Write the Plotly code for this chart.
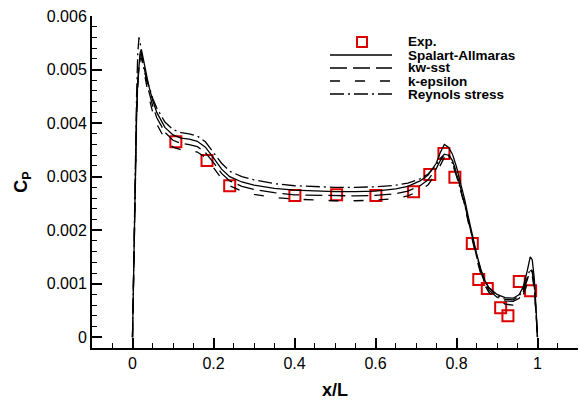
import plotly.graph_objects as go

# ---------------- data ----------------
x_cfd = [0.000, 0.002, 0.004, 0.007, 0.010, 0.013, 0.016, 0.019, 0.022, 0.026,
         0.030, 0.040, 0.050, 0.060, 0.080, 0.100, 0.120, 0.140, 0.160, 0.180,
         0.200, 0.220, 0.240, 0.270, 0.300, 0.350, 0.400, 0.450, 0.500, 0.550,
         0.600, 0.650, 0.680, 0.710, 0.730, 0.750, 0.760, 0.770, 0.780, 0.790,
         0.800, 0.810, 0.820, 0.830, 0.840, 0.850, 0.860, 0.870, 0.880, 0.900,
         0.920, 0.940, 0.955, 0.965, 0.975, 0.982, 0.987, 0.992, 0.996, 1.000]

cp_sa = [0.0, 0.00100, 0.00200, 0.00320, 0.00420, 0.00480, 0.00515, 0.00532, 0.00537, 0.00522,
         0.00505, 0.00470, 0.00442, 0.00420, 0.00392, 0.00378, 0.00372, 0.00370, 0.00366, 0.00355,
         0.00335, 0.00314, 0.00300, 0.00290, 0.00284, 0.00278, 0.00275, 0.00273, 0.00272, 0.00272,
         0.00273, 0.00277, 0.00282, 0.00292, 0.00303, 0.00325, 0.00345, 0.00360, 0.00355, 0.00342,
         0.00318, 0.00288, 0.00258, 0.00222, 0.00188, 0.00155, 0.00127, 0.00106, 0.00093, 0.00080,
         0.00074, 0.00073, 0.00080, 0.00095, 0.00125, 0.00150, 0.00145, 0.00110, 0.00060, 0.0]

cp_kw = [0.0, 0.00095, 0.00190, 0.00310, 0.00410, 0.00475, 0.00512, 0.00528, 0.00530, 0.00515,
         0.00498, 0.00460, 0.00432, 0.00410, 0.00383, 0.00368, 0.00362, 0.00360, 0.00356, 0.00345,
         0.00326, 0.00306, 0.00292, 0.00282, 0.00276, 0.00270, 0.00266, 0.00265, 0.00264, 0.00264,
         0.00265, 0.00268, 0.00273, 0.00283, 0.00294, 0.00315, 0.00330, 0.00342, 0.00342, 0.00330,
         0.00308, 0.00280, 0.00250, 0.00216, 0.00182, 0.00150, 0.00122, 0.00101, 0.00088, 0.00075,
         0.00068, 0.00067, 0.00073, 0.00085, 0.00108, 0.00125, 0.00122, 0.00095, 0.00050, 0.0]

cp_ke = [0.0, 0.00090, 0.00185, 0.00300, 0.00400, 0.00465, 0.00505, 0.00520, 0.00522, 0.00506,
         0.00488, 0.00450, 0.00420, 0.00398, 0.00370, 0.00355, 0.00350, 0.00350, 0.00346, 0.00336,
         0.00317, 0.00296, 0.00283, 0.00273, 0.00267, 0.00261, 0.00258, 0.00256, 0.00255, 0.00255,
         0.00256, 0.00259, 0.00264, 0.00274, 0.00285, 0.00306, 0.00322, 0.00336, 0.00338, 0.00326,
         0.00304, 0.00276, 0.00246, 0.00212, 0.00178, 0.00146, 0.00118, 0.00097, 0.00084, 0.00070,
         0.00062, 0.00060, 0.00068, 0.00080, 0.00100, 0.00118, 0.00115, 0.00090, 0.00048, 0.0]

cp_rs = [0.0, 0.00105, 0.00210, 0.00340, 0.00450, 0.00530, 0.00560, 0.00550, 0.00530, 0.00510,
         0.00495, 0.00468, 0.00446, 0.00428, 0.00402, 0.00388, 0.00382, 0.00380, 0.00376, 0.00365,
         0.00346, 0.00325, 0.00310, 0.00300, 0.00294, 0.00287, 0.00283, 0.00281, 0.00280, 0.00280,
         0.00281, 0.00284, 0.00288, 0.00296, 0.00305, 0.00322, 0.00334, 0.00342, 0.00340, 0.00325,
         0.00302, 0.00276, 0.00248, 0.00215, 0.00183, 0.00152, 0.00125, 0.00105, 0.00092, 0.00078,
         0.00071, 0.00070, 0.00077, 0.00090, 0.00112, 0.00128, 0.00124, 0.00096, 0.00052, 0.0]

x_exp = [0.107, 0.184, 0.240, 0.401, 0.504, 0.601, 0.694, 0.734, 0.769, 0.796,
         0.839, 0.855, 0.876, 0.909, 0.927, 0.955, 0.983]
cp_exp = [0.00365, 0.00330, 0.00283, 0.00265, 0.00266, 0.00265, 0.00272, 0.00304, 0.00343, 0.00299,
          0.00175, 0.00108, 0.00091, 0.00055, 0.00040, 0.00104, 0.00087]

x_ticks = [0, 0.2, 0.4, 0.6, 0.8, 1.0]
x_tick_labels = ["0", "0.2", "0.4", "0.6", "0.8", "1"]
y_ticks = [0, 0.001, 0.002, 0.003, 0.004, 0.005, 0.006]
y_tick_labels = ["0", "0.001", "0.002", "0.003", "0.004", "0.005", "0.006"]

series_names = ["Spalart-Allmaras", "kw-sst", "k-epsilon", "Reynols stress"]
series_dash = ["solid", "17px,6px", "10px,15px", "14px,4px,2px,4px"]
exp_name = "Exp."

# ---------------- figure ----------------
FONT = "Liberation Sans, Arial, sans-serif"
RED = "#dd0000"
W, H = 580, 401
ML, MR, MT, MB = 92, 2, 16, 53
PW, PH = W - ML - MR, H - MT - MB

fig = go.Figure()

fig.add_trace(go.Scatter(
    x=x_exp, y=cp_exp, mode="markers", name=exp_name,
    marker=dict(symbol="square-open", size=11, color=RED,
                line=dict(color=RED, width=2)),
))
for name, ys, dash in zip(series_names, [cp_sa, cp_kw, cp_ke, cp_rs], series_dash):
    fig.add_trace(go.Scatter(x=x_cfd, y=ys, mode="lines", name=name,
                             line=dict(color="black", width=1.3, dash=dash)))

axis_common = dict(
    showgrid=False, zeroline=False, showline=True, linecolor="black", linewidth=2,
    ticks="inside", ticklen=10, tickwidth=2, tickcolor="black",
    tickfont=dict(family=FONT, size=16, color="black"),
    mirror=False,
)

fig.update_xaxes(
    range=[-0.1, 1.1], tickmode="array", tickvals=x_ticks, ticktext=x_tick_labels,
    minor=dict(ticks="inside", dtick=0.05, ticklen=5, tickwidth=1, tickcolor="black", showgrid=False),
    title=dict(text="<b>x/L</b>", font=dict(family=FONT, size=18, color="black"), standoff=12),
    **axis_common,
)
fig.update_yaxes(
    range=[-0.0002, 0.006], tickmode="array", tickvals=y_ticks, ticktext=y_tick_labels,
    minor=dict(ticks="inside", dtick=0.0002, ticklen=5, tickwidth=1, tickcolor="black", showgrid=False),
    title=dict(text="<b>C<sub>P</sub></b>", font=dict(family=FONT, size=18, color="black"), standoff=14),
    **axis_common,
)

# ---------------- hand-drawn legend (compact, Tecplot style) ----------------
def px(xp):
    return (xp - ML) / PW

def py(yp):
    return (MT + PH - yp) / PH

row_y = [42, 55, 68, 81, 94]
sample_x0, sample_x1, text_x = 330, 392, 406
LEG_FONT = dict(family=FONT, size=13.5, color="black", weight="bold")

shapes = []
annotations = []
# Exp. marker
cx = (sample_x0 + sample_x1) / 2 + 1
shapes.append(dict(type="rect", xref="paper", yref="paper",
                   x0=px(cx - 5), x1=px(cx + 5), y0=py(row_y[0] + 5), y1=py(row_y[0] - 5),
                   line=dict(color=RED, width=2), fillcolor="rgba(0,0,0,0)"))
annotations.append(dict(xref="paper", yref="paper", x=px(text_x), y=py(row_y[0]),
                        xanchor="left", yanchor="middle", text=exp_name, showarrow=False,
                        font=LEG_FONT))
for i, (name, dash) in enumerate(zip(series_names, series_dash)):
    yy = row_y[i + 1]
    shapes.append(dict(type="line", xref="paper", yref="paper",
                       x0=px(sample_x0), x1=px(sample_x1), y0=py(yy), y1=py(yy),
                       line=dict(color="black", width=1.3, dash=dash)))
    annotations.append(dict(xref="paper", yref="paper", x=px(text_x), y=py(yy),
                            xanchor="left", yanchor="middle", text=name, showarrow=False,
                            font=LEG_FONT))

fig.update_layout(
    width=W, height=H,
    margin=dict(l=ML, r=MR, t=MT, b=MB),
    paper_bgcolor="white", plot_bgcolor="white",
    showlegend=False,
    shapes=shapes,
    annotations=annotations,
)

fig.write_html("out.html")
